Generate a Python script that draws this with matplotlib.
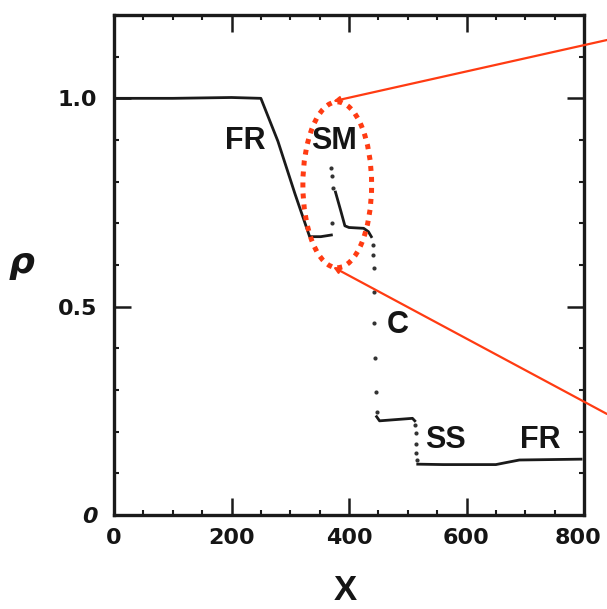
import matplotlib
matplotlib.use("Agg")
import matplotlib.pyplot as plt
import matplotlib.transforms as mtransforms
from matplotlib.patches import Ellipse
from matplotlib.ticker import MultipleLocator

# ---- data ----
fan_x = [0, 100, 200, 250, 279, 308, 333, 352, 370]
fan_y = [1.0, 1.0, 1.002, 1.0, 0.897, 0.771, 0.668, 0.668, 0.672]

mid_x = [377, 380, 386, 393, 400, 425, 433, 438]
mid_y = [0.775, 0.76, 0.73, 0.694, 0.69, 0.688, 0.68, 0.668]

sm_dot_x = [370, 371, 373, 371]
sm_dot_y = [0.834, 0.814, 0.786, 0.70]

c_dot_x = [441, 441, 442, 443, 443, 444, 446, 447]
c_dot_y = [0.648, 0.624, 0.592, 0.536, 0.46, 0.376, 0.296, 0.248]

ss_x = [447, 452, 480, 508, 512]
ss_y = [0.236, 0.226, 0.229, 0.232, 0.226]

ss_dot_x = [513, 514, 514, 514, 516]
ss_dot_y = [0.215, 0.196, 0.17, 0.15, 0.132]

right_x = [517, 560, 650, 668, 690, 795]
right_y = [0.122, 0.121, 0.121, 0.126, 0.132, 0.134]

labels = ["FR", "SM", "C", "SS", "FR"]
label_x = [224, 374, 483, 564, 725]
label_y = [0.897, 0.897, 0.455, 0.179, 0.179]

xticks = [0, 200, 400, 600, 800]
xtick_labels = ["0", "200", "400", "600", "800"]
yticks = [0, 0.5, 1.0]
ytick_labels = ["0", "0.5", "1.0"]

W, H = 607, 609
fig = plt.figure(figsize=(W / 100, H / 100), dpi=100)
ax = fig.add_axes([114 / W, 1 - 515 / H, (584 - 114) / W, (515 - 15) / H])

ink = "#1a1a1a"
txt = "#151515"
for lx, ly in [(fan_x, fan_y), (mid_x, mid_y), (ss_x, ss_y), (right_x, right_y)]:
    ax.plot(lx, ly, color=ink, lw=2.0)
for dx, dy in [(sm_dot_x, sm_dot_y), (c_dot_x, c_dot_y), (ss_dot_x, ss_dot_y)]:
    ax.plot(dx, dy, ls="none", marker="o", ms=3.0, color="#333333", mec="none")

for t, x, y in zip(labels, label_x, label_y):
    ax.text(x, y, t, ha="center", va="center", fontsize=22, fontweight="bold",
            family="Liberation Sans", color=txt)

ax.set_xlim(0, 800)
ax.set_ylim(0, 1.2)
ax.set_xticks(xticks)
ax.set_xticklabels(xtick_labels)
ax.set_yticks(yticks)
ax.set_yticklabels(ytick_labels)
ax.xaxis.set_minor_locator(MultipleLocator(50))
ax.yaxis.set_minor_locator(MultipleLocator(0.1))
ax.tick_params(which="major", direction="in", length=12, width=1.8,
               top=True, right=True, labelsize=16, color=ink, labelcolor=txt)
ax.tick_params(axis="x", which="major", pad=9)
ax.tick_params(axis="y", which="major", pad=12)
ax.tick_params(which="minor", direction="in", length=3.5, width=1.5,
               top=True, right=True, color=ink)
for lab in ax.get_xticklabels() + ax.get_yticklabels():
    lab.set_fontweight("bold")
ax.get_yticklabels()[0].set_style("italic")
last = ax.get_xticklabels()[-1]
last.set_transform(last.get_transform() +
                   mtransforms.ScaledTranslation(-6 / 100, 0, fig.dpi_scale_trans))
for s in ax.spines.values():
    s.set_linewidth(2.4)
    s.set_color(ink)

# red highlight ellipse and connector lines
red = "#ff3b12"
ell = Ellipse((380, 0.7925), 117, 0.398, fill=False, edgecolor=red,
              lw=3.6, ls=(0, (1, 1.2)), clip_on=False, zorder=5)
ax.add_patch(ell)
ax.annotate("", xy=(373, 0.993), xycoords="data",
            xytext=(1.0, 1 - 40 / H), textcoords="figure fraction",
            arrowprops=dict(arrowstyle="-|>", color=red, lw=1.6,
                            mutation_scale=9, shrinkA=0, shrinkB=0),
            annotation_clip=False)
ax.annotate("", xy=(373, 0.595), xycoords="data",
            xytext=(1.0, 1 - 414 / H), textcoords="figure fraction",
            arrowprops=dict(arrowstyle="-|>", color=red, lw=1.6,
                            mutation_scale=9, shrinkA=0, shrinkB=0),
            annotation_clip=False)

fig.text(22 / W, 1 - 263 / H, "ρ", fontsize=26, style="italic", fontweight="bold",
         ha="center", va="center", color=txt)
fig.text(345 / W, 1 - 590 / H, "X", fontsize=25, family="Liberation Sans",
         fontweight="bold", ha="center", va="center", color=txt)

fig.savefig("out.png", dpi=100)
